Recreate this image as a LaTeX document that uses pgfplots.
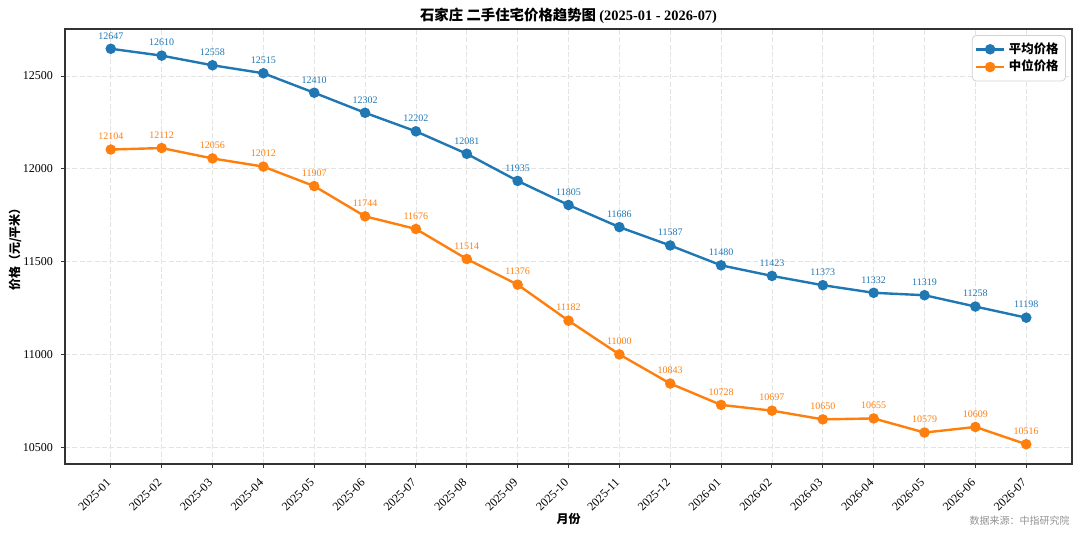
\documentclass[border=0pt]{standalone}
\usepackage{pgfplots}
\pgfplotsset{compat=1.18}
\usepackage{fontspec}
\setmainfont{Liberation Serif}
\newfontfamily\cjk{Noto Sans CJK SC}
\definecolor{c1}{HTML}{1F77B4}
\definecolor{c2}{HTML}{FF7F0E}
\definecolor{axc}{HTML}{333333}
\begin{document}
\begin{tikzpicture}
\useasboundingbox (-32.5pt,-35.5pt) rectangle (507.5pt,232pt);
\begin{axis}[
  at={(0,0)}, anchor=south west,
  scale only axis, width=503.5pt, height=217.5pt,
  xmin=-0.9, xmax=18.9, ymin=10409.5, ymax=12753.5,
  xtick={0,...,18},
  xticklabels={2025-01,2025-02,2025-03,2025-04,2025-05,2025-06,2025-07,2025-08,2025-09,2025-10,2025-11,2025-12,2026-01,2026-02,2026-03,2026-04,2026-05,2026-06,2026-07},
  ytick={10500,11000,11500,12000,12500},
  scaled y ticks=false,
  /pgf/number format/.cd, 1000 sep={}, assume math mode=true, /pgfplots/.cd,
  tick label style={font=\fontsize{6}{7}\selectfont, text=black},
  xticklabel style={xshift=-2.5pt, yshift=-4pt, rotate=45, anchor=north east, inner sep=0.5pt},
  yticklabel style={inner sep=1.5pt, xshift=-2.3pt},
  tick align=outside, xtick pos=left, ytick pos=left,
  major tick length=2pt,
  every tick/.style={axc, line width=0.5pt},
  axis line style={axc, line width=0.6pt},
  grid=major,
  major grid style={dash pattern=on 2.5pt off 1.2pt, gray!22, line width=0.4pt},
  xlabel={\cjk\bfseries 月份},
  xlabel style={at={(axis description cs:0.5,-0.1264)}, anchor=center, font=\fontsize{6}{7}\selectfont, inner sep=0pt},
  ylabel={\cjk\bfseries 价格（元/平米）},
  ylabel style={at={(axis description cs:-0.0497,0.5)}, anchor=center, rotate=0, font=\fontsize{6}{7}\selectfont, inner sep=0pt},
  legend style={at={(0.994,0.986)}, anchor=north east, draw=gray!35, rounded corners=2pt,
    font=\cjk\bfseries\fontsize{6.2}{6.5}\selectfont, inner sep=1.5pt, row sep=-2pt},
  legend cell align=left,
  legend image code/.code={\draw[mark repeat=2,mark phase=2] plot coordinates {(0cm,0cm) (0.24cm,0cm) (0.48cm,0cm)};},
  nodes near coords,
  every node near coord/.append style={font=\fontsize{5}{5.5}\selectfont, anchor=center, yshift=6.5pt, inner sep=0pt},
  clip=false,
]
\addplot[c1, line width=1.2pt, mark=*, mark size=2pt, every node near coord/.append style={text=c1}] coordinates {
(0,12647) (1,12610) (2,12558) (3,12515) (4,12410) (5,12302) (6,12202) (7,12081) (8,11935) (9,11805)
(10,11686) (11,11587) (12,11480) (13,11423) (14,11373) (15,11332) (16,11319) (17,11258) (18,11198)};
\addlegendentry{平均价格}
\addplot[c2, line width=1.2pt, mark=*, mark size=2pt, every node near coord/.append style={text=c2}] coordinates {
(0,12104) (1,12112) (2,12056) (3,12012) (4,11907) (5,11744) (6,11676) (7,11514) (8,11376) (9,11182)
(10,11000) (11,10843) (12,10728) (13,10697) (14,10650) (15,10655) (16,10579) (17,10609) (18,10516)};
\addlegendentry{中位价格}
\node[anchor=center, font=\fontsize{7.2}{8}\selectfont, inner sep=0pt] at (axis description cs:0.5,1.0299) {\cjk\bfseries 石家庄 二手住宅价格趋势图 \rmfamily\bfseries(2025-01 - 2026-07)};
\node[anchor=east, font=\cjk\fontsize{5}{6}\selectfont, text=gray!85, inner sep=0pt] at (axis description cs:0.998,-0.131) {数据来源：中指研究院};
\end{axis}
\end{tikzpicture}
\end{document}
